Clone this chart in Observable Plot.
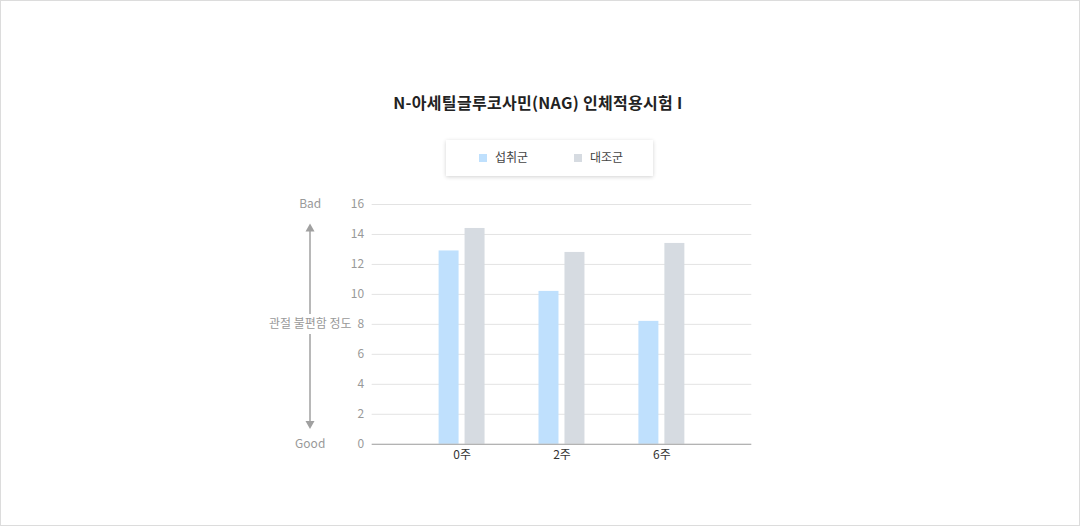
<!DOCTYPE html>
<html><head><meta charset="utf-8">
<script src="https://cdn.jsdelivr.net/npm/d3@7"></script>
<script src="https://cdn.jsdelivr.net/npm/@observablehq/plot@0.6"></script>
<style>
html,body{margin:0;padding:0;background:#fff;}
#page{position:relative;width:1078px;height:524px;border:1px solid #dcdcdc;background:#fff;font-family:"Noto Sans CJK KR","Noto Sans",sans-serif;overflow:hidden;}
#title{position:absolute;left:0;width:1074px;top:89px;text-align:center;font-size:16px;font-weight:700;color:#222;line-height:24px;letter-spacing:0.3px;}
#legend{position:absolute;left:445px;top:139px;width:207px;height:36px;background:#fff;box-shadow:0 1px 4px rgba(0,0,0,0.18);font-size:12px;color:#444;}
.sw{position:absolute;top:14px;width:8px;height:8px;}
.lt{position:absolute;top:8px;line-height:18px;}
#chart{position:absolute;left:-1px;top:188px;}
#arrow{position:absolute;left:-1px;top:188px;pointer-events:none;}
</style></head>
<body>
<div id="page">
  <div id="title">N-아세틸글루코사민(NAG) 인체적용시험 I</div>
  <div id="legend"></div>
  <div id="chart"></div>
  <svg id="arrow" width="1080" height="280"></svg>
</div>
<script>
const weeks = ["0주", "2주", "6주"];
const seriesNames = ["섭취군", "대조군"];
const seriesColors = ["#bfe0fd", "#d6dbe1"];
const intake = [12.9, 10.2, 8.2];
const control = [14.4, 12.8, 13.4];
const yTicks = [0, 2, 4, 6, 8, 10, 12, 14, 16];
const yLabels = [{y: 16, t: "Bad"}, {y: 0, t: "Good"}, {y: 8, t: "관절 불편함 정도"}];

const intakeData = weeks.map((w, i) => ({week: w, value: intake[i]}));
const controlData = weeks.map((w, i) => ({week: w, value: control[i]}));

// legend
const lg = document.getElementById("legend");
const legendPos = [33, 128];
seriesNames.forEach((n, i) => {
  const s = document.createElement("div");
  s.className = "sw"; s.style.left = legendPos[i] + "px"; s.style.background = seriesColors[i];
  const t = document.createElement("div");
  t.className = "lt"; t.style.left = (legendPos[i] + 16) + "px"; t.textContent = n;
  lg.appendChild(s); lg.appendChild(t);
});

const W = 1080, H = 280;
const plot = Plot.plot({
  width: W, height: H,
  marginLeft: 372, marginRight: 328, marginTop: 15, marginBottom: 25,
  style: {fontFamily: '"Noto Sans CJK KR","Noto Sans",sans-serif', fontSize: "12px", background: "transparent"},
  x: {domain: weeks, range: [411.5, 711.5], padding: 0, axis: null},
  y: {domain: [0, 16], axis: null},
  marks: [
    Plot.ruleY(yTicks.filter(d => d > 0), {stroke: "#e3e3e3", strokeWidth: 1}),
    Plot.barY(intakeData, {x: "week", y: "value", fill: seriesColors[0], insetLeft: 27, insetRight: 53}),
    Plot.barY(controlData, {x: "week", y: "value", fill: seriesColors[1], insetLeft: 53, insetRight: 27}),
    Plot.ruleY([0], {stroke: "#9a9a9a", strokeWidth: 1}),
    Plot.text(yTicks, {y: d => d, text: d => String(d), frameAnchor: "left", textAnchor: "end", dx: -8, fill: "#999", fontSize: 12}),
    Plot.text(weeks, {x: d => d, text: d => d, frameAnchor: "bottom", dy: 15, fill: "#333", fontSize: 12}),
    Plot.text(yLabels, {y: "y", text: "t", frameAnchor: "left", dx: -62, textAnchor: "middle", fill: "#999", fontSize: 12})
  ]
});
document.getElementById("chart").appendChild(plot);

// decorative arrow (y positions from the same scale)
const ys = plot.scale("y");
const ax = 310;
const yTop = ys.apply(14.7), yBot = ys.apply(1.0), yMid = ys.apply(8);
const sv = d3.select("#arrow");
sv.append("line").attr("x1", ax).attr("x2", ax).attr("y1", yTop + 7).attr("y2", yMid - 10).attr("stroke", "#a0a0a0").attr("stroke-width", 1.5);
sv.append("line").attr("x1", ax).attr("x2", ax).attr("y1", yMid + 10).attr("y2", yBot - 7).attr("stroke", "#a0a0a0").attr("stroke-width", 1.5);
sv.append("path").attr("d", `M${ax},${yTop} L${ax-4.5},${yTop+8} L${ax+4.5},${yTop+8} Z`).attr("fill", "#a0a0a0");
sv.append("path").attr("d", `M${ax},${yBot} L${ax-4.5},${yBot-8} L${ax+4.5},${yBot-8} Z`).attr("fill", "#a0a0a0");
</script>
</body></html>
